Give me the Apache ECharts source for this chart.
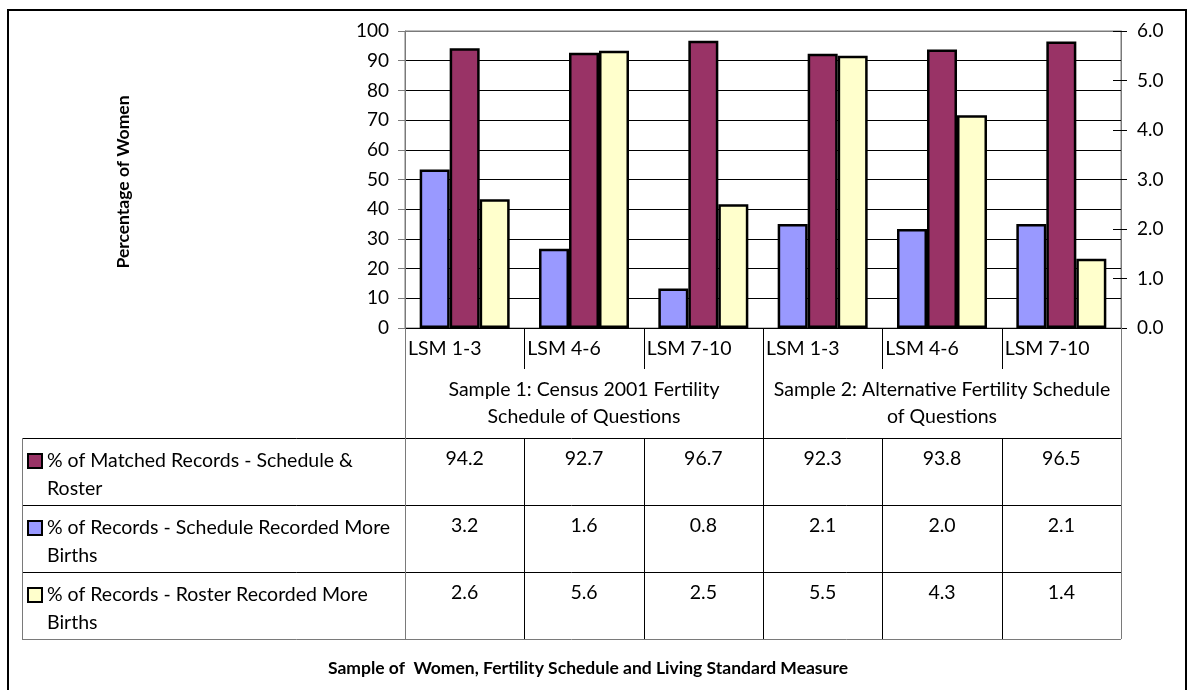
<!DOCTYPE html>
<html lang="en">
<head>
    <meta charset="UTF-8">
    <title>Fertility schedule</title>
    <style>
        *{ padding:0; margin:0; }
        body{ background:#fff; }
    </style>
    <script src="https://cdn.jsdelivr.net/npm/echarts@6/dist/echarts.min.js"></script>
</head>
<body>
<div id="main" style="width:1187px;height:690px;"></div>
<script>
    // data
    var categories = ['LSM 1-3', 'LSM 4-6', 'LSM 7-10', 'LSM 1-3', 'LSM 4-6', 'LSM 7-10'];
    var groupLabels = [
        ['Sample 1: Census 2001 Fertility', 'Schedule of Questions'],
        ['Sample 2: Alternative Fertility Schedule', 'of Questions']
    ];
    var matched = [94.2, 92.7, 96.7, 92.3, 93.8, 96.5];
    var scheduleMore = [3.2, 1.6, 0.8, 2.1, 2.0, 2.1];
    var rosterMore = [2.6, 5.6, 2.5, 5.5, 4.3, 1.4];
    var rowNames = [
        ['% of Matched Records - Schedule &', 'Roster'],
        ['% of Records - Schedule Recorded More', 'Births'],
        ['% of Records - Roster Recorded More', 'Births']
    ];
    var rowColors = ['#993366', '#9999FF', '#FFFFCC'];

    var FONT = 'Lato';
    var TXT = 19.5;
    var plotL = 405, plotR = 1121, plotT = 31, plotB = 328;
    var colW = (plotR - plotL) / categories.length;
    var tblL = 22, rowTop = 438, rowH = 67, catRowB = 369;
    var lineCol = '#000', edgeCol = '#7a7a7a';

    var myChart = echarts.init(document.getElementById('main'));

    var g = [];
    function line(x1, y1, x2, y2, c, w) {
        // half pixel offset keeps 1px lines crisp
        var dx = x1 === x2 ? 0.5 : 0, dy = y1 === y2 ? 0.5 : 0;
        g.push({type: 'line', silent: true, z: 50,
            shape: {x1: x1 + dx, y1: y1 + dy, x2: x2 + dx, y2: y2 + dy},
            style: {stroke: c || lineCol, lineWidth: w || 1}});
    }
    function text(s, x, y, align, opts) {
        opts = opts || {};
        g.push({type: 'text', silent: true, z: 50, x: x, y: y, rotation: opts.rot || 0,
            style: {text: s, fill: '#000', font: (opts.bold ? 'bold ' : '') + (opts.size || TXT) + 'px ' + FONT,
                align: align || 'center', verticalAlign: 'middle'}});
    }

    // outer frame
    g.push({type: 'rect', silent: true, z: 1, shape: {x: 8, y: 10, width: 1178, height: 700},
        style: {fill: 'none', stroke: '#000', lineWidth: 2}});

    // table grid
    var tblB = rowTop + rowH * rowNames.length;
    for (var r = 0; r <= rowNames.length; r++) {
        line(tblL, rowTop + r * rowH, plotR, rowTop + r * rowH, r === rowNames.length ? edgeCol : lineCol);
    }
    line(tblL, rowTop, tblL, tblB, edgeCol);
    line(plotL, plotB, plotL, tblB, edgeCol);
    line(plotR, plotB, plotR, tblB, edgeCol);
    for (var i = 1; i < categories.length; i++) {
        var x = Math.round(plotL + i * colW);
        if (i === 3) {
            line(x, plotB, x, tblB);
        } else {
            line(x, plotB, x, catRowB);
            line(x, rowTop, x, tblB);
        }
    }
    // category labels
    categories.forEach(function (c, i) {
        text(c, plotL + i * colW + 3, 349, 'left');
    });
    // group labels
    groupLabels.forEach(function (lines, k) {
        var cx = plotL + (k * 3 + 1.5) * colW;
        text(lines[0], cx, 390);
        text(lines[1], cx, 417);
    });
    // data rows
    [matched, scheduleMore, rosterMore].forEach(function (vals, r) {
        var top = rowTop + r * rowH;
        g.push({type: 'rect', silent: true, z: 50, shape: {x: 28, y: top + 16, width: 14, height: 14},
            style: {fill: rowColors[r], stroke: '#000', lineWidth: 2}});
        text(rowNames[r][0], 47, top + 23, 'left');
        text(rowNames[r][1], 47, top + 51, 'left');
        vals.forEach(function (v, i) {
            text(v.toFixed(1), plotL + (i + 0.5) * colW, top + 21);
        });
    });
    // titles
    text('Percentage of Women', 123, 182, 'center', {bold: true, size: 17.5, rot: Math.PI / 2});
    text('Sample of  Women, Fertility Schedule and Living Standard Measure', 588, 668, 'center', {bold: true, size: 17.5});

    var gridColors = [];
    for (var k = 0; k < 10; k++) gridColors.push('#000');
    gridColors.push(edgeCol);

    var barBorder = {borderColor: '#000', borderWidth: 2.5};

    var option = {
        backgroundColor: '#fff',
        animation: false,
        textStyle: {fontFamily: FONT},
        grid: {left: plotL, right: 1187 - plotR, top: plotT, bottom: 690 - plotB,
            show: true, borderColor: edgeCol, borderWidth: 1},
        xAxis: {
            type: 'category',
            data: categories,
            axisLine: {show: true, lineStyle: {color: '#000'}},
            axisTick: {show: false},
            axisLabel: {show: false},
            splitLine: {show: false}
        },
        yAxis: [
            {
                type: 'value', min: 0, max: 100, interval: 10,
                position: 'left',
                axisLine: {show: true, lineStyle: {color: edgeCol}},
                axisTick: {show: true, length: 7, lineStyle: {color: edgeCol}},
                axisLabel: {color: '#000', fontSize: 19, fontFamily: FONT, margin: 16},
                splitLine: {show: true, lineStyle: {color: gridColors, width: 1}}
            },
            {
                type: 'value', min: 0, max: 6, interval: 1,
                position: 'right',
                axisLine: {show: true, lineStyle: {color: edgeCol}},
                axisTick: {show: true, length: 6, lineStyle: {color: '#000'}},
                axisLabel: {color: '#000', fontSize: 19, fontFamily: FONT, margin: 16,
                    formatter: function (v) { return v.toFixed(1); }},
                splitLine: {show: false}
            },
            {
                // inner half of the crossing ticks on the right axis
                type: 'value', min: 0, max: 6, interval: 1,
                position: 'right',
                axisLine: {show: false},
                axisTick: {show: true, inside: true, length: 8, lineStyle: {color: '#000'}},
                axisLabel: {show: false},
                splitLine: {show: false}
            }
        ],
        series: [
            {
                name: '% of Records - Schedule Recorded More Births',
                type: 'bar', yAxisIndex: 1,
                data: scheduleMore,
                barGap: '0%', barCategoryGap: '24.6%',
                itemStyle: Object.assign({color: '#9999FF'}, barBorder)
            },
            {
                name: '% of Matched Records - Schedule & Roster',
                type: 'bar', yAxisIndex: 0,
                data: matched,
                barGap: '0%', barCategoryGap: '24.6%',
                itemStyle: Object.assign({color: '#993366'}, barBorder)
            },
            {
                name: '% of Records - Roster Recorded More Births',
                type: 'bar', yAxisIndex: 1,
                data: rosterMore,
                barGap: '0%', barCategoryGap: '24.6%',
                itemStyle: Object.assign({color: '#FFFFCC'}, barBorder)
            }
        ],
        graphic: g
    };
    myChart.setOption(option);
</script>
</body>
</html>
